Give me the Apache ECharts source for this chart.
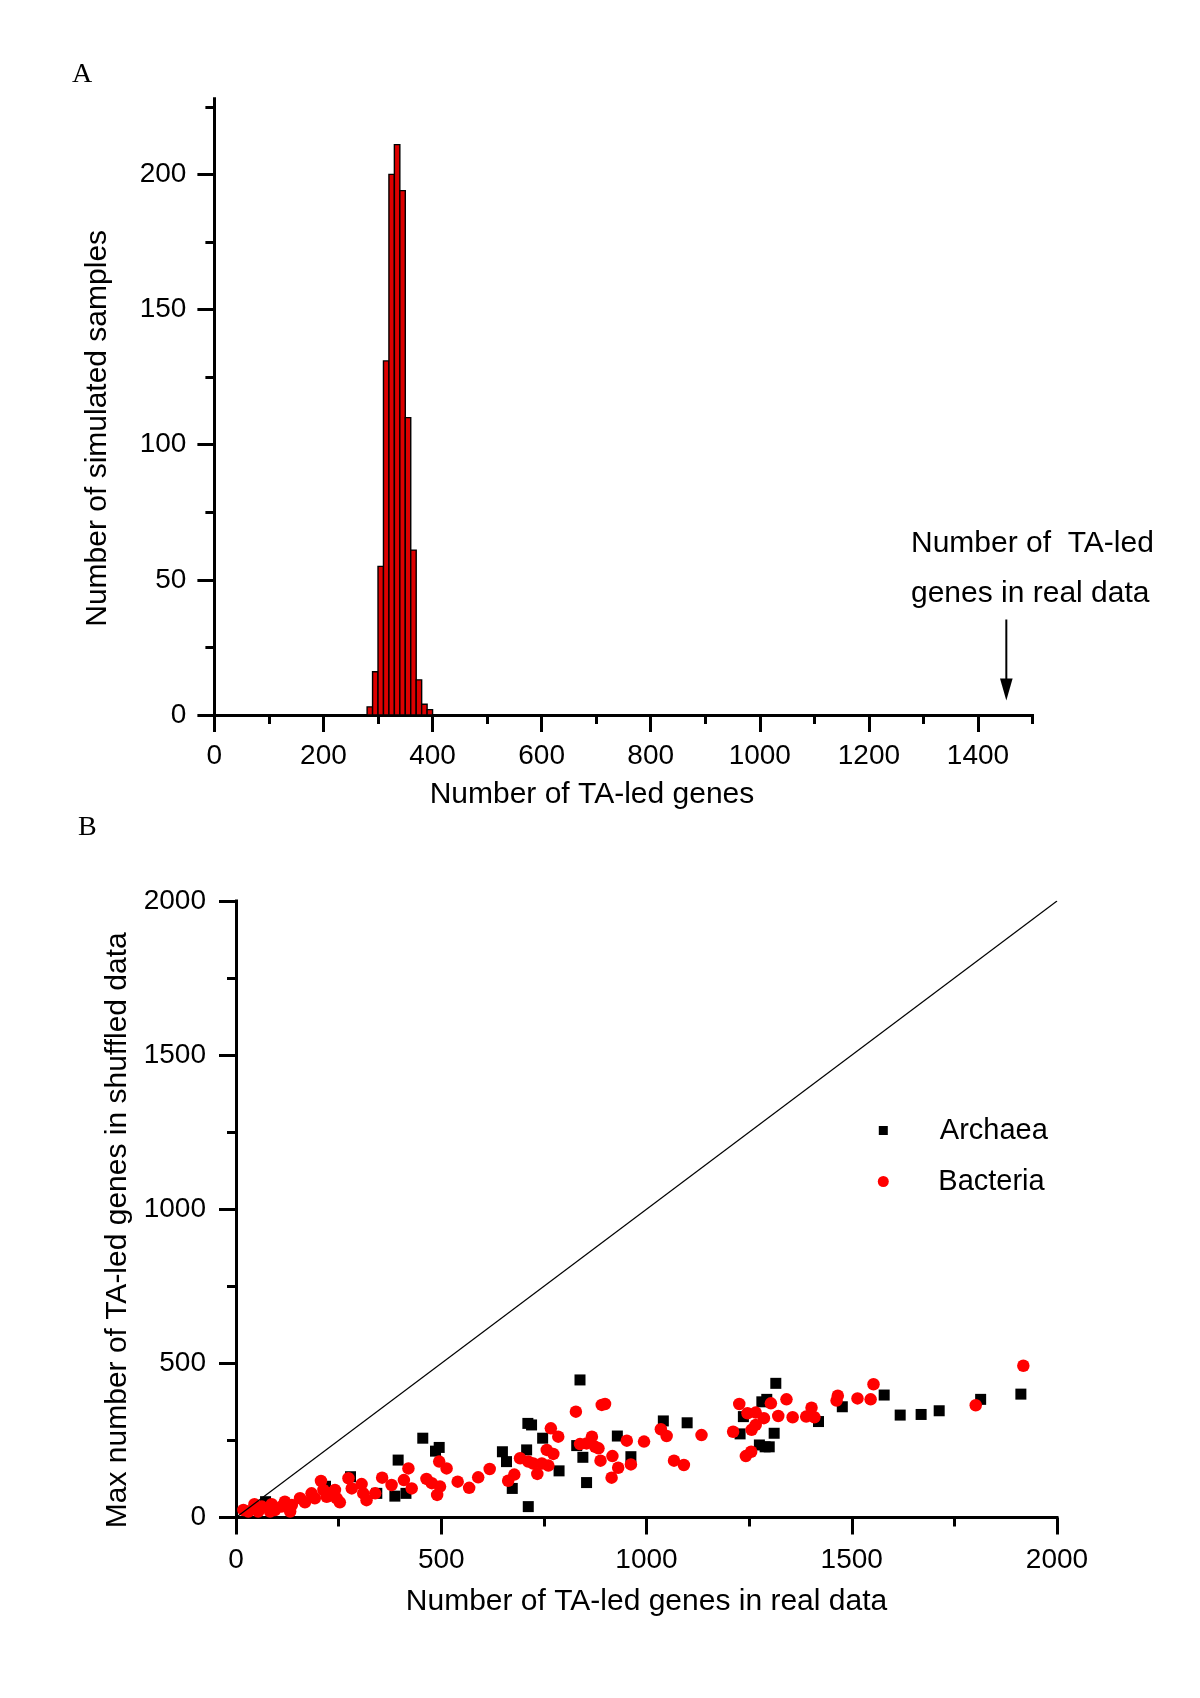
<!DOCTYPE html>
<html><head><meta charset="utf-8">
<script src="https://cdn.jsdelivr.net/npm/echarts@6/dist/echarts.min.js"></script>
<style>html,body{margin:0;padding:0;background:#fff}#c{width:1200px;height:1698px}</style>
</head><body><div id="c"></div>
<script>
// ---------- Panel A data (histogram) ----------
const binStarts = [280, 290, 300, 310, 320, 330, 340, 350, 360, 370, 380, 390];
const binWidth = 10;
const binCounts = [3, 16, 55, 131, 200, 211, 194, 110, 61, 13, 4, 2];
const histXMajor = [0, 200, 400, 600, 800, 1000, 1200, 1400];
const histXMinor = [100, 300, 500, 700, 900, 1100, 1300, 1500];
const histYMajor = [0, 50, 100, 150, 200];
const histYMinor = [25, 75, 125, 175, 225];
const realDataValue = 1452;

// ---------- Panel B data (scatter) ----------
const archaea = [
  [72,51],[218,101],[279,132],[343,78],[387,69],[414,78],[395,186],[455,257],[486,215],[495,227],
  [649,213],[659,181],[673,94],[708,219],[711,305],[720,300],[712,35],[747,257],[787,151],[830,233],
  [838,446],[845,195],[854,113],[929,264],[962,197],[1041,313],[1099,307],[1228,271],[1236,327],
  [1275,235],[1289,229],[1299,229],[1281,375],[1293,383],[1311,273],[1315,435],[1419,311],[1477,359],
  [1579,397],[1618,332],[1669,334],[1713,346],[1814,383],[1912,400]
];
const bacteria = [
  [18,24],[30,19],[45,43],[54,19],[63,35],[87,43],[83,19],[95,24],[111,35],[119,51],[132,19],[136,40],
  [156,62],[168,49],[184,78],[192,62],[207,118],[213,89],[221,67],[229,78],[241,89],[245,62],[253,49],
  [274,127],[282,94],[306,108],[310,78],[318,56],[339,78],[356,129],[379,105],[409,121],[420,159],
  [428,94],[464,125],[477,111],[490,73],[497,100],[495,181],[513,159],[540,116],[568,96],[590,130],
  [618,157],[663,119],[678,139],[692,192],[712,181],[724,175],[734,141],[745,175],[757,219],[761,168],
  [773,206],[767,289],[785,262],[828,343],[838,238],[854,240],[867,262],[875,229],[883,224],[891,365],
  [899,368],[888,184],[917,199],[931,161],[915,129],[952,249],[962,172],[994,246],[1035,286],[1049,264],
  [1067,184],[1091,170],[1134,267],[1211,278],[1226,368],[1246,338],[1266,340],[1256,284],[1266,300],
  [1286,322],[1303,370],[1321,329],[1242,199],[1255,213],[1341,383],[1356,325],[1389,327],[1402,356],
  [1409,325],[1466,395],[1463,379],[1514,386],[1546,383],[1553,432],[1802,364],[1918,492]
];
const identityLine = [[0, 0], [2000, 2000]];
const scatterMajor = [0, 500, 1000, 1500, 2000];
const scatterMinor = [250, 750, 1250, 1750];

const FONT = "'Liberation Sans', Arial, Helvetica, sans-serif";
const chart = echarts.init(document.getElementById('c'), null, {renderer: 'canvas'});

function majorAxis(gridIndex, min, max, ticks, name, nameGap, margin, namePad) {
  return {
    type: 'value', gridIndex, min, max, interval: ticks[1] - ticks[0],
    axisLine: {show: true, onZero: false, lineStyle: {color: '#000', width: 3, cap: 'square'}},
    axisTick: {show: true, inside: false, length: 17, customValues: ticks, lineStyle: {color: '#000', width: 3}},
    axisLabel: {show: true, customValues: ticks, margin, color: '#000', fontSize: 28, fontFamily: FONT,
                formatter: function (v) { return String(v); }},
    splitLine: {show: false}, minorTick: {show: false},
    name, nameLocation: 'middle', nameGap,
    nameTextStyle: {color: '#000', fontSize: 30, fontFamily: FONT, padding: namePad}
  };
}
function minorAxis(gridIndex, min, max, ticks) {
  return {
    type: 'value', gridIndex, min, max,
    axisLine: {show: false, onZero: false},
    axisTick: {show: true, inside: false, length: 9, customValues: ticks, lineStyle: {color: '#000', width: 3}},
    axisLabel: {show: false}, splitLine: {show: false}
  };
}

const xA = majorAxis(0, 0, 1500, histXMajor, 'Number of TA-led genes', 65, 27, [0, 63, 0, 0]); xA.position = 'bottom';
const xAm = minorAxis(0, 0, 1500, histXMinor); xAm.position = 'bottom';
const yA = majorAxis(0, 0, 228, histYMajor, 'Number of simulated samples', 102, 28, [0, 43, 0, 0]); yA.position = 'left';
const yAm = minorAxis(0, 0, 228, histYMinor); yAm.position = 'left';
const xB = majorAxis(1, 0, 2000, scatterMajor, 'Number of TA-led genes in real data', 69, 29, [0, 0, 0, 0]); xB.position = 'bottom';
const xBm = minorAxis(1, 0, 2000, scatterMinor); xBm.position = 'bottom';
const yB = majorAxis(1, 0, 2000, scatterMajor, 'Max number of TA-led genes in shuffled data', 97, 30, [0, 42, 0, 0]); yB.position = 'left';
const yBm = minorAxis(1, 0, 2000, scatterMinor); yBm.position = 'left';

const histData = binStarts.map((s, i) => [s, s + binWidth, binCounts[i]]);

chart.setOption({
  animation: false,
  backgroundColor: '#fff',
  textStyle: {fontFamily: FONT},
  grid: [
    {left: 214.4, top: 98.7, width: 818.1, height: 616.3, containLabel: false, outerBoundsMode: 'none'},
    {left: 236, top: 901, width: 821, height: 616.4, containLabel: false, outerBoundsMode: 'none'}
  ],
  xAxis: [xA, xAm, xB, xBm],
  yAxis: [yA, yAm, yB, yBm],
  legend: [
    {data: ['Archaea'], left: 878.8, top: 1116, padding: 0, orient: 'vertical', icon: 'rect',
     itemWidth: 9, itemHeight: 9, selectedMode: false,
     textStyle: {color: '#000', fontSize: 29, fontFamily: FONT, padding: [0, 0, 0, 47]}},
    {data: ['Bacteria'], left: 877.8, top: 1167, padding: 0, orient: 'vertical', icon: 'circle',
     itemWidth: 11, itemHeight: 11, selectedMode: false,
     textStyle: {color: '#000', fontSize: 29, fontFamily: FONT, padding: [0, 0, 0, 44.5]}}
  ],
  series: [
    {
      type: 'custom', name: 'Histogram', xAxisIndex: 0, yAxisIndex: 0,
      data: histData, encode: {x: [0, 1], y: 2},
      renderItem: function (params, api) {
        const p0 = api.coord([api.value(0), api.value(2)]);
        const p1 = api.coord([api.value(1), 0]);
        return {type: 'rect',
          shape: {x: p0[0], y: p0[1], width: p1[0] - p0[0], height: p1[1] - p0[1]},
          style: {fill: '#dd0000', stroke: '#000', lineWidth: 1.4}};
      }
    },
    {
      type: 'scatter', name: 'Archaea', xAxisIndex: 2, yAxisIndex: 2,
      data: archaea, symbol: 'rect', symbolSize: 11,
      itemStyle: {color: '#000', opacity: 1}
    },
    {
      type: 'scatter', name: 'Bacteria', xAxisIndex: 2, yAxisIndex: 2,
      data: bacteria, symbol: 'circle', symbolSize: 12.5,
      itemStyle: {color: '#ff0000', opacity: 1}
    },
    {
      type: 'line', name: 'y = x', xAxisIndex: 2, yAxisIndex: 2, z: 5,
      data: identityLine, symbol: 'none', silent: true,
      lineStyle: {color: '#000', width: 1.2}
    }
  ]
});

// Annotation arrow pointing at the real-data value on panel A
const base = chart.convertToPixel({xAxisIndex: 0, yAxisIndex: 0}, [realDataValue, 0]);
const ax = base[0], tipY = base[1] - 14.5;
chart.setOption({
  graphic: [
    {type: 'text', left: 72, top: 61, style: {text: 'A', fill: '#000', font: "28px 'Liberation Serif', 'Times New Roman', serif"}},
    {type: 'text', left: 78, top: 814, style: {text: 'B', fill: '#000', font: "28px 'Liberation Serif', 'Times New Roman', serif"}},
    {type: 'text', left: 911, top: 529, style: {text: 'Number of  TA-led', fill: '#000', font: "30px " + FONT}},
    {type: 'text', left: 911, top: 579, style: {text: 'genes in real data', fill: '#000', font: "30px " + FONT}},
    {type: 'line', shape: {x1: ax, y1: tipY - 81, x2: ax, y2: tipY - 18}, style: {stroke: '#000', lineWidth: 2}},
    {type: 'polygon', shape: {points: [[ax - 6.3, tipY - 22], [ax + 6.3, tipY - 22], [ax, tipY]]}, style: {fill: '#000'}}
  ]
});
</script>
</body></html>
